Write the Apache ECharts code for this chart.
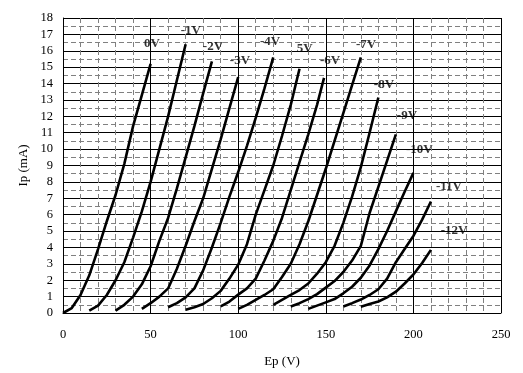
<!DOCTYPE html>
<html>
<head>
<meta charset="utf-8">
<script src="https://cdn.jsdelivr.net/npm/echarts@6/dist/echarts.min.js"></script>
<style>html,body{margin:0;padding:0;background:#fff;}#c{width:523px;height:373px;}</style>
</head>
<body>
<div id="c"></div>
<script>
// Grid voltages (curve labels)
const curveNames = ['0V','-1V','-2V','-3V','-4V','5V','-6V','-7V','-8V','-9V','-10V','-11V','-12V'];
// Plate curves: [Ep (V), Ip (mA)]
const c0   = [[0,0],[5,0.3],[10,1.1],[15,2.3],[20,3.9],[25,5.6],[30,7.2],[35,9.1],[40,11.4],[45,13.3],[50,15.2]];
const c1   = [[15,0.15],[20,0.45],[25,1.1],[30,2.0],[35,3.1],[40,4.6],[45,6.2],[50,8.0],[55,10.0],[60,12.0],[65,14.2],[70,16.4]];
const c2   = [[30,0.15],[35,0.5],[40,1.0],[45,1.75],[50,2.85],[55,4.4],[60,5.8],[65,7.6],[70,9.5],[75,11.4],[80,13.4],[85,15.35]];
const c3   = [[45,0.25],[50,0.6],[55,1.0],[60,1.5],[65,2.7],[70,4.1],[75,5.6],[80,7.0],[85,8.8],[90,10.6],[95,12.5],[100,14.4]];
const c4   = [[60,0.35],[65,0.6],[70,0.95],[75,1.5],[80,2.6],[85,4.0],[90,5.5],[95,7.1],[100,8.6],[105,10.2],[110,11.9],[115,13.7],[120,15.6]];
const c5   = [[70,0.2],[75,0.35],[80,0.55],[85,0.9],[90,1.35],[95,2.1],[100,2.95],[105,4.2],[110,6.0],[115,7.5],[120,9.0],[125,10.8],[130,12.7],[135,14.9]];
const c6   = [[90,0.4],[95,0.7],[100,1.12],[105,1.5],[110,2.1],[115,3.2],[120,4.4],[125,5.8],[130,7.5],[135,9.2],[140,10.9],[145,12.7],[149,14.35]];
const c7   = [[100,0.25],[105,0.5],[110,0.8],[115,1.1],[120,1.45],[125,2.2],[130,3.0],[135,4.2],[140,5.6],[145,7.2],[150,8.8],[155,10.5],[160,12.2],[165,13.9],[170,15.6]];
const c8   = [[120,0.5],[125,0.8],[130,1.1],[135,1.4],[140,1.8],[145,2.4],[150,3.1],[155,4.1],[160,5.5],[165,7.1],[170,8.9],[175,11.0],[180,13.15]];
const c9   = [[130,0.4],[135,0.6],[140,0.85],[145,1.15],[150,1.55],[155,1.95],[160,2.5],[165,3.2],[170,4.1],[175,6.1],[180,7.7],[185,9.3],[190,10.9]];
const c10  = [[140,0.25],[145,0.45],[150,0.65],[155,0.85],[160,1.2],[165,1.6],[170,2.15],[175,2.9],[180,3.9],[185,5.0],[190,6.2],[195,7.4],[200,8.55]];
const c11  = [[160,0.4],[165,0.6],[170,0.82],[175,1.1],[180,1.45],[185,2.1],[190,3.1],[195,3.9],[200,4.7],[205,5.7],[210,6.8]];
const c12  = [[170,0.38],[175,0.55],[180,0.7],[185,0.95],[190,1.3],[195,1.8],[200,2.35],[205,3.05],[210,3.85]];
const curves = [c0,c1,c2,c3,c4,c5,c6,c7,c8,c9,c10,c11,c12];
// Axis ticks
const xTicks = [0,50,100,150,200,250];
const yTicks = [0,1,2,3,4,5,6,7,8,9,10,11,12,13,14,15,16,17,18];

// Label anchor positions (layout, in data coordinates)
const labelAnchors = [[50.8,16.45],[73,17.2],[85.6,16.25],[101,15.4],[118.2,16.55],[138,16.15],[152.4,15.4],[173,16.4],[183.2,13.95],[196.3,12.05],[203.4,9.95],[220.3,7.7],[223.2,5.0]];

const serif = '"Liberation Serif","Times New Roman",serif';
const chart = echarts.init(document.getElementById('c'), null, {renderer:'canvas'});

const series = curves.map((d, i) => ({
  type: 'line',
  data: d,
  showSymbol: false,
  symbol: 'none',
  smooth: false,
  silent: true,
  lineStyle: {color: '#000', width: 2.6},
  animation: false
}));
series.push({
  type: 'scatter',
  symbolSize: 0,
  silent: true,
  animation: false,
  data: labelAnchors.map((p, i) => ({value: p, label: {formatter: curveNames[i]}})),
  label: {
    show: true, position: 'inside', color: '#000',
    fontFamily: serif, fontWeight: 'bold', fontSize: 13
  }
});

chart.setOption({
  animation: false,
  backgroundColor: '#fff',
  grid: {left: 63, right: 22, top: 18, bottom: 60, show: false},
  xAxis: {
    type: 'value', min: 0, max: 250, interval: 50,
    name: 'Ep (V)', nameLocation: 'middle', nameGap: 42,
    nameTextStyle: {fontFamily: serif, fontSize: 13, color: '#000'},
    axisLine: {show: true, onZero: false, lineStyle: {color: '#000', width: 1}},
    axisTick: {show: false},
    axisLabel: {color: '#000', fontFamily: serif, fontSize: 12.5, margin: 15,
      formatter: v => xTicks.includes(v) ? String(v) : ''},
    splitLine: {show: true, lineStyle: {color: '#000', width: 1}},
    minorTick: {show: false, splitNumber: 5},
    minorSplitLine: {show: true, lineStyle: {color: '#808080', width: 1, type: [5, 3]}}
  },
  yAxis: {
    type: 'value', min: 0, max: 18, interval: 1,
    name: 'Ip (mA)', nameLocation: 'middle', nameGap: 30, nameRotate: 90,
    nameTextStyle: {fontFamily: serif, fontSize: 13, color: '#000'},
    axisLine: {show: true, onZero: false, lineStyle: {color: '#000', width: 1}},
    axisTick: {show: false},
    axisLabel: {color: '#000', fontFamily: serif, fontSize: 12.5, margin: 10,
      formatter: v => yTicks.includes(v) ? String(v) : ''},
    splitLine: {show: true, lineStyle: {color: '#000', width: 1}},
    minorTick: {show: false, splitNumber: 2},
    minorSplitLine: {show: true, lineStyle: {color: '#808080', width: 1, type: [5, 3]}}
  },
  series: series
});
</script>
</body>
</html>
